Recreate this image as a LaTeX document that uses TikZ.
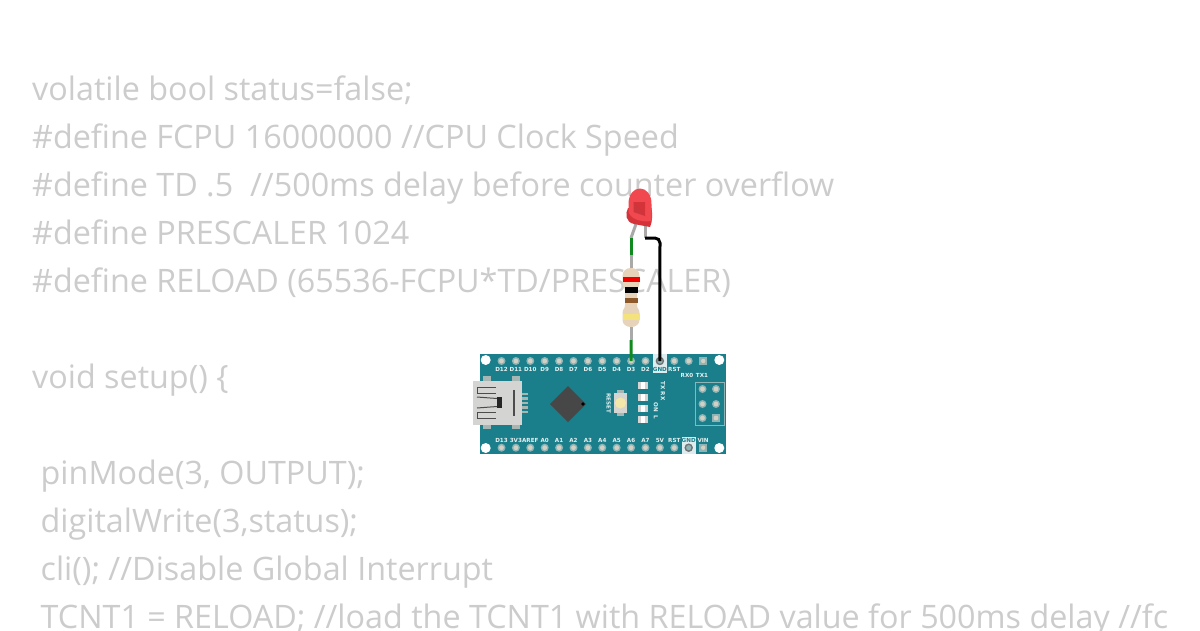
\documentclass[tikz,border=0pt]{standalone}
\usepackage{fontspec}
\setmainfont{Open Sans}
\newfontfamily\pinfont{DejaVu Sans}
\definecolor{codegray}{HTML}{CCCCCC}
\definecolor{boardteal}{HTML}{1A7F8B}
\definecolor{pinring}{HTML}{8FB4B5}
\definecolor{pinhole}{HTML}{D2CFC4}
\definecolor{silkwhite}{HTML}{E6F1F1}
\definecolor{usbgray}{HTML}{D4D4D2}
\definecolor{padgray}{HTML}{A7B5B3}
\definecolor{chipgray}{HTML}{474747}
\definecolor{ledred}{HTML}{F0484E}
\definecolor{leddark}{HTML}{D5333A}
\definecolor{leadgray}{HTML}{A9A9A9}
\definecolor{wiregreen}{HTML}{108A1E}
\definecolor{bodytan}{HTML}{E6D3BA}
\definecolor{btncream}{HTML}{F2E6A8}
\definecolor{bandbrown}{HTML}{8F5A2B}
\definecolor{bandyellow}{HTML}{F4E27C}
\tikzset{
  code/.style={anchor=base west,inner sep=0pt,text=codegray,font=\fontsize{32.3}{32.3}\selectfont},
  pinlabel/.style={inner sep=0pt,text=silkwhite,font=\pinfont\bfseries\fontsize{5.6}{6}\selectfont},
  wirebk/.style={line width=3pt,draw=black,rounded corners=5pt},
  wiregr/.style={line width=3pt,draw=wiregreen},
  leadline/.style={line width=3pt,draw=leadgray},
  usbline/.style={line width=1pt,draw=black!70},
  wirept/.style={inner sep=0pt,minimum size=0pt},
}
\begin{document}
\begin{tikzpicture}[x=1pt,y=-1pt]
\useasboundingbox (0,0) rectangle (1200,630);
\clip (0,0) rectangle (1200,630);
\fill[white] (0,0) rectangle (1200,630);
% code text
\node[code] (c1) at (32,100) {volatile bool status=false;};
\node[code] (c2) at (32,148) {\#define FCPU 16000000 //CPU Clock Speed};
\node[code] (c3) at (32,196) {\#define TD .5\ \ //500ms delay before counter overflow};
\node[code] (c4) at (32,244) {\#define PRESCALER 1024};
\node[code] (c5) at (32,292) {\#define RELOAD (65536-FCPU*TD/PRESCALER)};
\node[code] (c6) at (32,388) {void setup() \{};
\node[code] (c7) at (40.5,484) {pinMode(3, OUTPUT);};
\node[code] (c8) at (40.5,532) {digitalWrite(3,status);};
\node[code] (c9) at (40.5,580) {cli(); //Disable Global Interrupt};
\node[code] (c10) at (40.5,628) {TCNT1 = RELOAD; //load the TCNT1 with RELOAD value for 500ms delay //fc};
% board
\fill[boardteal] (480,353.5) rectangle (726,454);
\fill[white!85!boardteal] (653,353.5) rectangle (667,373);
\fill[white!85!boardteal] (681.5,437) rectangle (695.5,454);
\foreach \p/\q in {485.7/360,485.7/448,719.3/360,719.3/448}
  \fill[white] (\p,\q) circle (5);
% pins
\foreach \i in {0,...,13}{
  \pgfmathsetmacro\px{501.5+14.4*\i}
  \fill[pinring] (\px,361) circle (4);
  \fill[pinhole] (\px,361) circle (2.4);
  \fill[pinring] (\px,447.7) circle (4);
  \fill[pinhole] (\px,447.7) circle (2.4);
}
\fill[black!55] (659.9,361) circle (4.2);
\fill[pinring] (659.9,361) circle (2.6);
\fill[black!55] (688.7,447.7) circle (4.2);
\fill[pinring] (688.7,447.7) circle (2.6);
\foreach \q in {361,447.7}{
  \fill[pinring] (699,\q-4.2) rectangle (707.4,\q+4.2);
  \fill[pinhole] (703.2,\q) circle (2.2);
}
\foreach \n/\i in {D12/0,D11/1,D10/2,D9/3,D8/4,D7/5,D6/6,D5/7,D4/8,D3/9,D2/10,RST/12}{
  \pgfmathsetmacro\px{501.5+14.4*\i}
  \node[pinlabel] (t\n) at (\px,369) {\n};
}
\node[pinlabel,text=boardteal] (tGND) at (659.9,369) {GND};
\node[pinlabel] (tRX) at (687,375) {RX0};
\node[pinlabel] (tTX) at (702,375) {TX1};
\foreach \n/\i in {D13/0,3V3/1,AREF/2,A0/3,A1/4,A2/5,A3/6,A4/7,A5/8,A6/9,A7/10,5V/11,RST/12,VIN/14}{
  \pgfmathsetmacro\px{501.5+14.4*\i}
  \node[pinlabel] (b\n) at (\px,440) {\n};
}
\node[pinlabel,text=boardteal] (bGND) at (688.7,440) {GND};
% USB
\fill[padgray] (483,376) rectangle (491,382);
\fill[padgray] (512,376) rectangle (520,382);
\fill[padgray] (483,423) rectangle (491,429);
\fill[padgray] (512,423) rectangle (520,429);
\foreach \q in {394,398.5,403,407.5,412}
  \fill[padgray] (522,\q-1.3) rectangle (528,\q+1.3);
\fill[usbgray] (473,381) rectangle (522.3,424.5);
\draw[usbline] (496,387) -- (477,387) -- (477,393) -- (496,393);
\draw[usbline] (477,397) -- (497,398.5);
\draw[usbline] (477,408) -- (497,406.5);
\draw[usbline] (477,412) -- (496,412) (477,412) -- (477,418) -- (496,418);
\fill[black!85] (497,397) -- (502,397) -- (502,408) -- (497,408) -- cycle;
\draw[line width=1.3pt,draw=black!70] (514,390) -- (514,416);
% chip
\fill[chipgray] (568,386) -- (586,404) -- (568,422) -- (550,404) -- cycle;
\fill[black] (583,404) circle (1.8);
% reset
\node[pinlabel,rotate=-90] (tRESET) at (608.7,403) {RESET};
\fill[padgray] (617,390) rectangle (624,416);
\fill[usbgray] (613.5,393) rectangle (627,413);
\fill[btncream] (620.5,403) circle (5.5);
% smd leds
\foreach \q in {385,397,408.5,419.7}{
  \fill[usbgray] (637.5,\q-3.5) rectangle (648,\q+3.5);
  \fill[white] (640.5,\q-3.5) rectangle (645,\q+3.5);
}
\node[pinlabel,rotate=-90] (tTXRX) at (663,391) {TX RX};
\node[pinlabel,rotate=-90] (tONL) at (656,411) {ON\ \ L};
% header block
\draw[line width=0.7pt,draw=pinring] (695,382) rectangle (724,425);
\foreach \p/\q in {702.5/389,716/389,702.5/404,716/404,702.5/418}{
  \fill[pinring] (\p,\q) circle (4);
  \fill[pinhole] (\p,\q) circle (2.4);
}
\fill[pinring] (712,414) rectangle (720,422);
\fill[pinhole] (716,418) circle (2.4);
% connection points
\node[wirept] (pinD3) at (631.1,361) {};
\node[wirept] (pinGND) at (659.9,361) {};
\node[wirept] (resB) at (631,340) {};
\node[wirept] (resBody) at (631,327) {};
\node[wirept] (resTop) at (631,268) {};
\node[wirept] (ledA) at (631,238) {};
\node[wirept] (ledC) at (645,238) {};
\node[wirept] (ledAtop) at (636,224) {};
\node[wirept] (ledCtop) at (645,224) {};
% leads
\draw[leadline] (ledA.center) -- (resTop.center);
\draw[leadline] (resBody.center) -- (resB.center);
\draw[leadline,line join=round] (ledAtop.center) -- (ledA.center);
\draw[leadline] (ledCtop.center) -- (ledC.center);
% wires
\draw[wiregr] (ledA.center) -- (631,255);
\draw[wiregr] (resB.center) -- (pinD3.center);
\draw[wirebk] (ledC.center) -- (660,238) -- (pinGND.center);
% resistor
\fill[bodytan] (631,268) .. controls (626,268) and (622.5,271) .. (622.5,276)
  -- (622.5,283) .. controls (622.5,287) and (625,287) .. (625,291)
  -- (625,305) .. controls (625,309) and (622.5,309) .. (622.5,313)
  -- (622.5,320) .. controls (622.5,324) and (626,327) .. (631,327)
  .. controls (636,327) and (639.5,324) .. (639.5,320)
  -- (639.5,313) .. controls (639.5,309) and (637,309) .. (637,305)
  -- (637,291) .. controls (637,287) and (639.5,287) .. (639.5,283)
  -- (639.5,276) .. controls (639.5,271) and (636,268) .. (631,268) -- cycle;
\fill[red!95!black] (622.5,276.7) rectangle (639.5,281.7);
\fill[black] (624.5,287) rectangle (637.5,293);
\fill[bandbrown] (624.5,297.7) rectangle (637.5,303.3);
\fill[bandyellow] (622.5,313.5) rectangle (639.5,320);
% led
\fill[leddark] (628,208) .. controls (625,214) and (625.5,222) .. (634,224)
  -- (650,227) .. controls (652.5,222) and (652.5,214) .. (651.5,208) -- cycle;
\fill[ledred] (628.5,212) -- (628.5,204) .. controls (628.5,194) and (634,188.5) .. (640,188.5)
  .. controls (646,188.5) and (651.5,194) .. (651.5,204) -- (651.5,221)
  .. controls (644,222) and (632,221) .. (628.5,212) -- cycle;
\fill[leddark] (633.5,202) -- (645,202) -- (645,216) -- cycle;
\fill[leddark!85!black,opacity=.6] (633.5,202) -- (645,216) -- (633.5,212) -- cycle;
\end{tikzpicture}
\end{document}
